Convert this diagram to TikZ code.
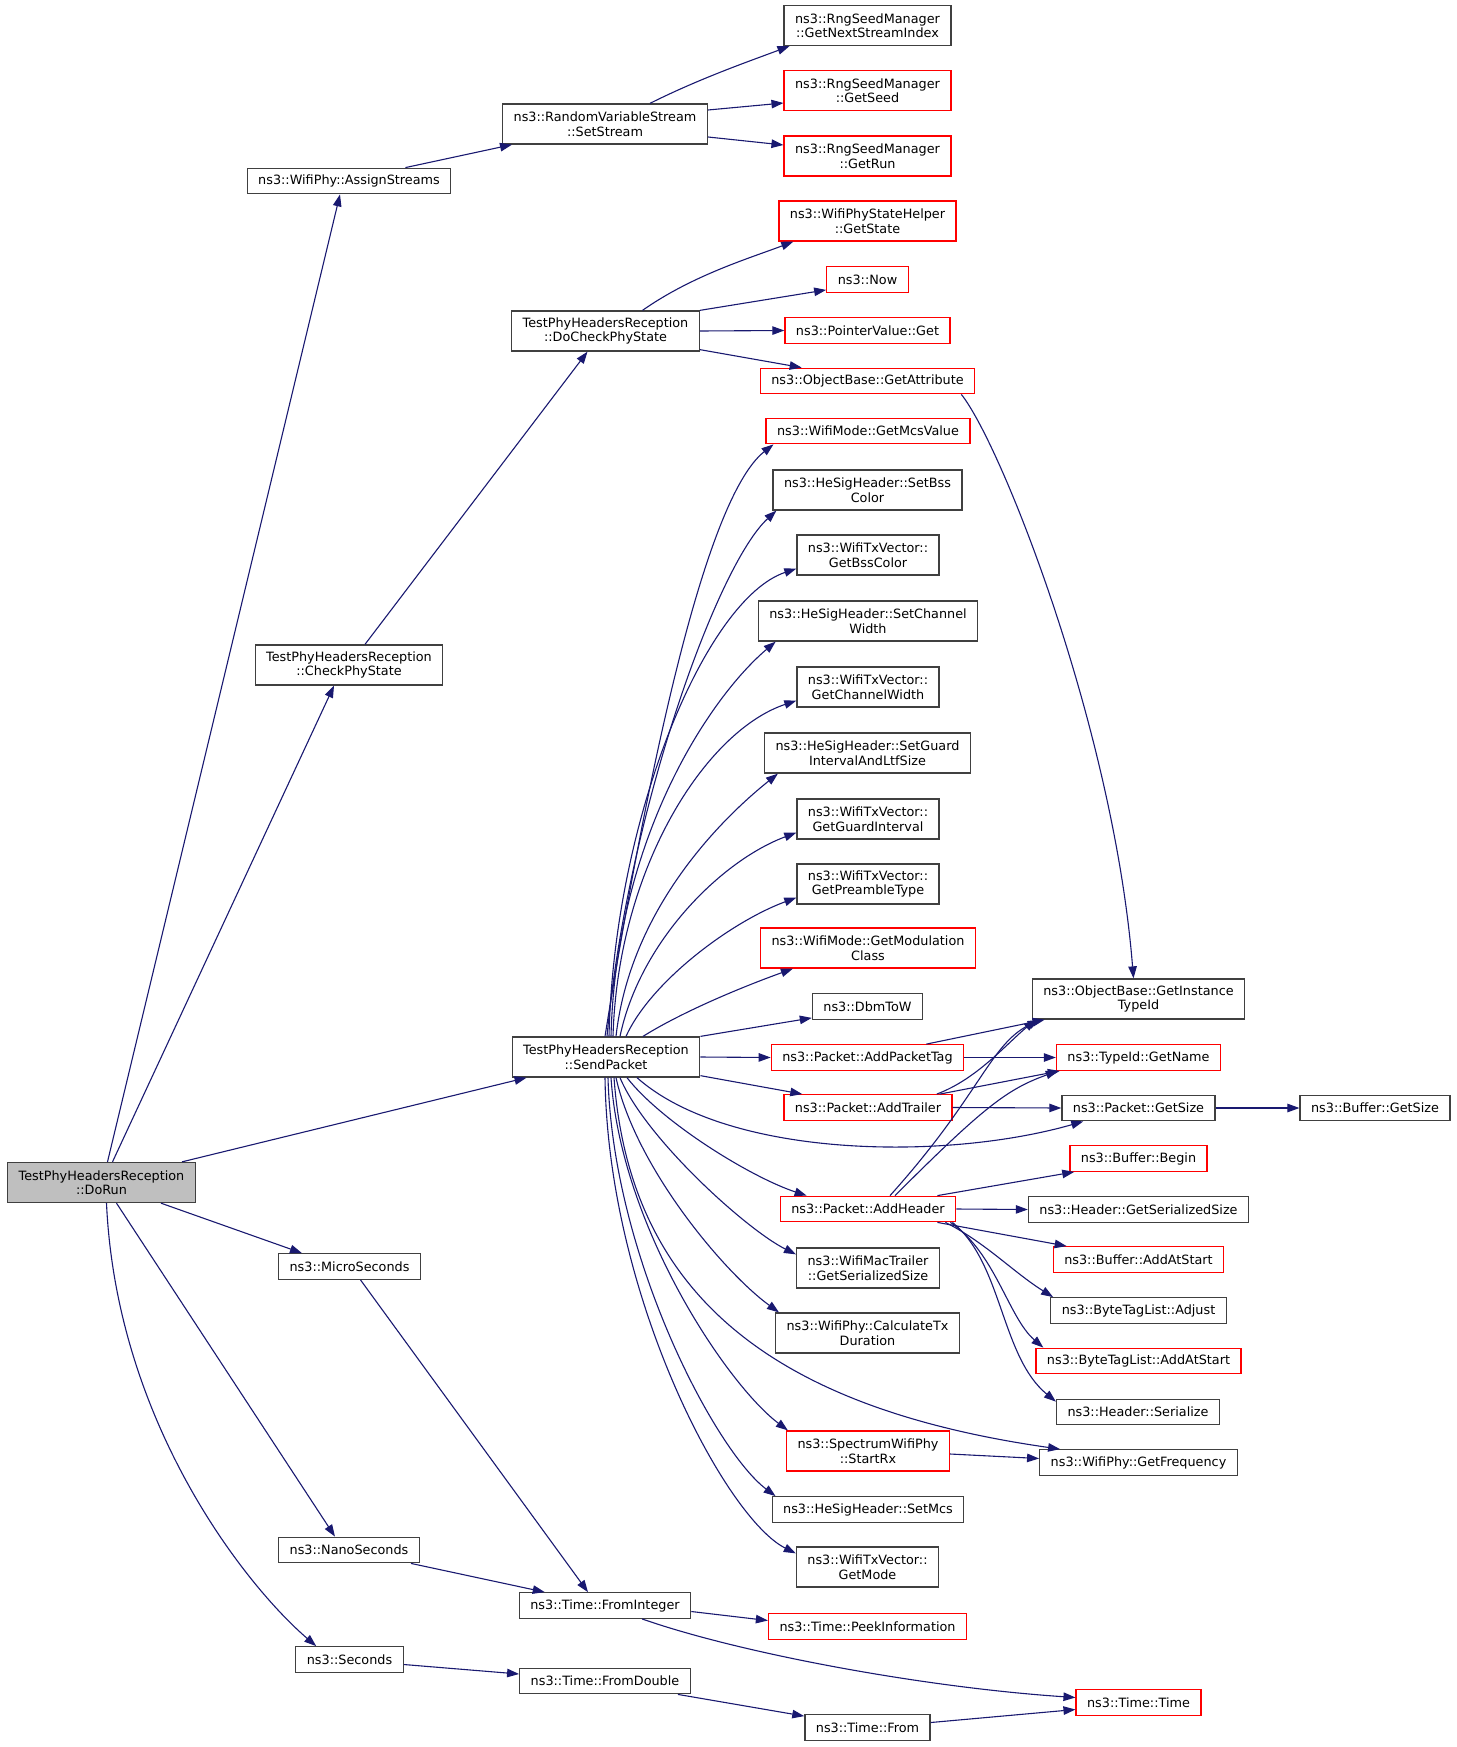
\documentclass[tikz,border=0pt]{standalone}
\usepackage{fontspec}
\setmainfont{DejaVu Sans}
\usetikzlibrary{arrows.meta}
\definecolor{edgeblue}{HTML}{191970}
\definecolor{boxgray}{HTML}{404040}
\definecolor{rootgray}{HTML}{BFBFBF}
\definecolor{linkred}{HTML}{FF0000}
\tikzset{
  fn/.style={draw=boxgray, line width=1.3pt, fill=white, rectangle, align=center,
    inner xsep=11pt, inner ysep=2pt, minimum height=25.5pt},
  fnred/.style={fn, draw=linkred},
  fnroot/.style={fn, fill=rootgray},
  two/.style={minimum height=40pt},
  call/.style={draw=edgeblue, line width=1.1pt, -{Triangle[length=12pt,width=8.5pt]}}
}

\begin{document}
\begin{tikzpicture}[x=1pt, y=1pt, font=\fontsize{12.8}{14.5}\selectfont]

    \useasboundingbox (0,0) rectangle (1456,-1747);

    \node[fnroot, two] (dorun) at (101.5,-1182.5) {TestPhyHeadersReception\\::DoRun};

    \node[fn] (assign) at (349,-181) {ns3::WifiPhy::AssignStreams};
    \node[fn, two] (checkphy) at (349,-665) {TestPhyHeadersReception\\::CheckPhyState};
    \node[fn, two] (send) at (606,-1057) {TestPhyHeadersReception\\::SendPacket};
    \node[fn] (micro) at (349.5,-1266.5) {ns3::MicroSeconds};
    \node[fn] (nano) at (349,-1550) {ns3::NanoSeconds};
    \node[fn] (seconds) at (349.5,-1659.5) {ns3::Seconds};

    \node[fn, two] (setstream) at (605,-124) {ns3::RandomVariableStream\\::SetStream};
    \node[fn, two] (docheck) at (605.5,-331) {TestPhyHeadersReception\\::DoCheckPhyState};
    \node[fn] (fromint) at (605,-1605.5) {ns3::Time::FromInteger};
    \node[fn] (fromdbl) at (605,-1681) {ns3::Time::FromDouble};

    \node[fn, two] (nextidx) at (867.5,-25.5) {ns3::RngSeedManager\\::GetNextStreamIndex};
    \node[fnred, two] (getseed) at (867.5,-90.5) {ns3::RngSeedManager\\::GetSeed};
    \node[fnred, two] (getrun) at (867.5,-156) {ns3::RngSeedManager\\::GetRun};
    \node[fnred, two] (getstate) at (867.5,-221) {ns3::WifiPhyStateHelper\\::GetState};
    \node[fnred] (now) at (867.5,-279.5) {ns3::Now};
    \node[fnred] (ptrget) at (867.5,-330.5) {ns3::PointerValue::Get};
    \node[fnred] (getattr) at (867.5,-381) {ns3::ObjectBase::GetAttribute};
    \node[fnred] (mcs) at (868,-431) {ns3::WifiMode::GetMcsValue};
    \node[fn, two] (setbss) at (867.5,-490) {ns3::HeSigHeader::SetBss\\Color};
    \node[fn, two] (getbss) at (868,-555) {ns3::WifiTxVector::\\GetBssColor};
    \node[fn, two] (setchw) at (868,-621) {ns3::HeSigHeader::SetChannel\\Width};
    \node[fn, two] (getchw) at (868,-687) {ns3::WifiTxVector::\\GetChannelWidth};
    \node[fn, two] (setgi) at (867.5,-753) {ns3::HeSigHeader::SetGuard\\IntervalAndLtfSize};
    \node[fn, two] (getgi) at (868,-819) {ns3::WifiTxVector::\\GetGuardInterval};
    \node[fn, two] (getpre) at (868,-884) {ns3::WifiTxVector::\\GetPreambleType};
    \node[fnred, two] (getmod) at (868,-948) {ns3::WifiMode::GetModulation\\Class};
    \node[fn] (dbm) at (867.5,-1006.5) {ns3::DbmToW};
    \node[fnred] (addtag) at (867.5,-1057.5) {ns3::Packet::AddPacketTag};
    \node[fnred] (addtrl) at (868,-1107.5) {ns3::Packet::AddTrailer};
    \node[fnred] (addhdr) at (868,-1209) {ns3::Packet::AddHeader};
    \node[fn, two] (mactrl) at (868,-1268) {ns3::WifiMacTrailer\\::GetSerializedSize};
    \node[fn, two] (calctx) at (867.5,-1333) {ns3::WifiPhy::CalculateTx\\Duration};
    \node[fnred, two] (startrx) at (868,-1451) {ns3::SpectrumWifiPhy\\::StartRx};
    \node[fn] (setmcs) at (868,-1509.5) {ns3::HeSigHeader::SetMcs};
    \node[fn, two] (getmode) at (867.5,-1567) {ns3::WifiTxVector::\\GetMode};
    \node[fnred] (peek) at (867.5,-1626.5) {ns3::Time::PeekInformation};
    \node[fn] (tfrom) at (867.5,-1727.5) {ns3::Time::From};

    \node[fn, two] (instid) at (1138.5,-999) {ns3::ObjectBase::GetInstance\\TypeId};
    \node[fnred] (getname) at (1138.5,-1057.5) {ns3::TypeId::GetName};
    \node[fn] (pgetsize) at (1138.5,-1108) {ns3::Packet::GetSize};
    \node[fnred] (bbegin) at (1138.5,-1158.5) {ns3::Buffer::Begin};
    \node[fn] (hgss) at (1138.5,-1209.5) {ns3::Header::GetSerializedSize};
    \node[fnred] (baddst) at (1138.5,-1259.5) {ns3::Buffer::AddAtStart};
    \node[fn] (btladj) at (1138.5,-1310.5) {ns3::ByteTagList::Adjust};
    \node[fnred] (btladd) at (1138.5,-1361) {ns3::ByteTagList::AddAtStart};
    \node[fn] (hser) at (1138,-1412) {ns3::Header::Serialize};
    \node[fn] (getfreq) at (1138.5,-1462.5) {ns3::WifiPhy::GetFrequency};
    \node[fnred] (ttime) at (1138.5,-1702.5) {ns3::Time::Time};

    \node[fn] (bgetsize) at (1375,-1108) {ns3::Buffer::GetSize};

    \draw[call] ([xshift=6pt]dorun.north) -- ([xshift=-9pt]assign.south);
    \draw[call] ([xshift=11pt]dorun.north) -- ([xshift=-15pt]checkphy.south);
    \draw[call] ([xshift=-14pt]dorun.north east) -- ([xshift=15pt]send.south west);
    \draw[call] ([xshift=-35pt]dorun.south east) -- ([xshift=24pt]micro.north west);
    \draw[call] ([xshift=15pt]dorun.south) -- ([xshift=-14pt]nano.north);
    \draw[call] ([xshift=5pt]dorun.south) .. controls +(10,-220) and +(-70,60) .. ([xshift=21pt]seconds.north west);

    \draw[call] ([xshift=-46pt]assign.north east) -- ([xshift=10pt]setstream.south west);
    \draw[call] ([xshift=45pt]setstream.north) .. controls +(50,25) and +(-40,-15) .. ([xshift=6pt]nextidx.south west);
    \draw[call] ([yshift=14pt]setstream.east) -- ([yshift=-12.5pt]getseed.west);
    \draw[call] ([yshift=-13pt]setstream.east) -- ([yshift=11pt]getrun.west);

    \draw[call] ([xshift=16pt]checkphy.north) -- ([xshift=-18pt]docheck.south);
    \draw[call] ([xshift=37pt]docheck.north) .. controls +(50,35) and +(-45,-17) .. ([xshift=15pt]getstate.south west);
    \draw[call] (docheck.north east) -- ([yshift=3pt]now.south west);
    \draw[call] (docheck.east) -- (ptrget.west);
    \draw[call] ([yshift=2pt]docheck.south east) -- ([xshift=42pt]getattr.north west);
    \draw[call] ([xshift=-14pt]getattr.south east) .. controls +(40,-50) and +(-20,250) .. ([xshift=-5pt]instid.north);

    \draw[call] ([xshift=-1pt]send.north) .. controls +(40,250) and +(-70,-55) .. ([xshift=8pt]mcs.south west);
    \draw[call] ([xshift=1pt]send.north) .. controls +(20,220) and +(-60,-55) .. ([xshift=4pt]setbss.south west);
    \draw[call] ([xshift=3pt]send.north) .. controls +(5,220) and +(-90,-30) .. ([yshift=7pt]getbss.south west);
    \draw[call] ([xshift=5pt]send.north) .. controls +(5,200) and +(-65,-55) .. ([xshift=18pt]setchw.south west);
    \draw[call] ([xshift=7pt]send.north) .. controls +(5,170) and +(-90,-30) .. ([yshift=7pt]getchw.south west);
    \draw[call] ([xshift=10pt]send.north) .. controls +(14,125) and +(-60,-48) .. ([xshift=14pt]setgi.south west);
    \draw[call] ([xshift=14pt]send.north) .. controls +(20,95) and +(-75,-28) .. ([yshift=7pt]getgi.south west);
    \draw[call] ([xshift=20pt]send.north) .. controls +(25,55) and +(-65,-24) .. ([yshift=7pt]getpre.south west);
    \draw[call] ([xshift=37pt]send.north) .. controls +(40,25) and +(-50,-18) .. ([xshift=33pt]getmod.south west);
    \draw[call] (send.north east) -- ([yshift=2pt]dbm.south west);
    \draw[call] (send.east) -- (addtag.west);
    \draw[call] ([yshift=2pt]send.south east) -- ([xshift=19pt]addtrl.north west);
    \draw[call] ([xshift=31pt]send.south) .. controls +(90,-80) and +(-140,-40) .. ([xshift=22pt]pgetsize.south west);
    \draw[call] ([xshift=21pt]send.south) .. controls +(35,-45) and +(-55,18) .. ([xshift=27pt]addhdr.north west);
    \draw[call] ([xshift=14pt]send.south) .. controls +(25,-60) and +(-50,25) .. ([yshift=-7pt]mactrl.north west);
    \draw[call] ([xshift=10pt]send.south) .. controls +(20,-90) and +(-55,40) .. ([xshift=4pt]calctx.north west);
    \draw[call] ([xshift=8pt]send.south) .. controls +(16,-222) and +(-280,40) .. ([xshift=21pt]getfreq.north west);
    \draw[call] ([xshift=5pt]send.south) .. controls +(10,-150) and +(-60,45) .. ([xshift=2pt]startrx.north west);
    \draw[call] ([xshift=2pt]send.south) .. controls +(5,-180) and +(-60,45) .. ([xshift=4pt]setmcs.north west);
    \draw[call] ([xshift=-1pt]send.south) .. controls +(3,-220) and +(-70,35) .. ([yshift=-7pt]getmode.north west);

    \draw[call] ([xshift=-38pt]addtag.north east) -- ([xshift=13pt]instid.south west);
    \draw[call] (addtag.east) -- (getname.west);

    \draw[call] ([xshift=-16pt]addtrl.north east) .. controls +(40,15) and +(-30,-25) .. ([xshift=4pt]instid.south west);
    \draw[call] ([xshift=-13pt]addtrl.north east) -- ([xshift=4pt]getname.south west);
    \draw[call] (addtrl.east) -- (pgetsize.west);

    \draw[call] ([xshift=22pt]addhdr.north) .. controls +(90,100) and +(-50,-25) .. ([xshift=8pt]instid.south west);
    \draw[call] ([xshift=27pt]addhdr.north) .. controls +(90,90) and +(-50,-18) .. ([xshift=2pt]getname.south west);
    \draw[call] ([xshift=-19pt]addhdr.north east) -- ([xshift=5pt]bbegin.south west);
    \draw[call] (addhdr.east) -- (hgss.west);
    \draw[call] ([xshift=-19pt]addhdr.south east) -- ([xshift=14pt]baddst.north west);
    \draw[call] ([xshift=-11pt]addhdr.south east) .. controls +(40,-20) and +(-40,25) .. ([xshift=3pt]btladj.north west);
    \draw[call] ([xshift=-6pt]addhdr.south east) .. controls +(45,-30) and +(-35,30) .. ([xshift=8pt]btladd.north west);
    \draw[call] ([xshift=-4pt]addhdr.south east) .. controls +(50,-40) and +(-55,45) .. ([yshift=-3pt]hser.north west);

    \draw[call] ([yshift=-3pt]startrx.east) -- ([yshift=4pt]getfreq.west);
    \draw[call] (pgetsize.east) -- (bgetsize.west);

    \draw[call] ([xshift=11pt]micro.south) -- ([xshift=-17pt]fromint.north);
    \draw[call] ([xshift=-9pt]nano.south east) -- ([xshift=26pt]fromint.north west);
    \draw[call] ([yshift=-5pt]seconds.east) -- ([yshift=7pt]fromdbl.west);
    \draw[call] ([yshift=-6pt]fromint.east) -- ([yshift=6pt]peek.west);
    \draw[call] ([xshift=37pt]fromint.south) .. controls +(100,-35) and +(-150,10) .. ([yshift=5pt]ttime.west);
    \draw[call] ([xshift=-13pt]fromdbl.south east) -- ([yshift=-2pt]tfrom.north west);
    \draw[call] ([yshift=5pt]tfrom.east) -- ([yshift=-7pt]ttime.west);

\end{tikzpicture}
\end{document}
